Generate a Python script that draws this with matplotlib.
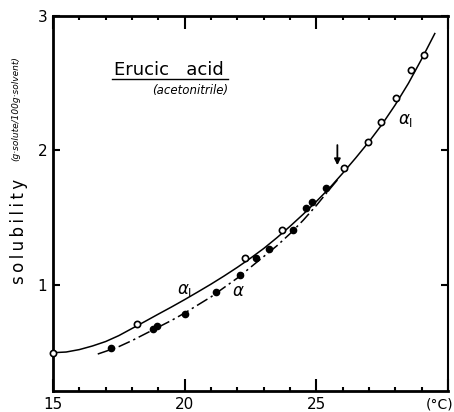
import matplotlib
matplotlib.use("Agg")
import matplotlib.pyplot as plt
import numpy as np

# alpha_1 form (open circles) -- measured points
a1_temp = [15.0, 18.2, 22.3, 23.7, 26.06, 26.98, 27.47, 28.04, 28.61, 29.1]
a1_sol = [0.49, 0.71, 1.20, 1.41, 1.87, 2.06, 2.21, 2.39, 2.60, 2.71]

# alpha form (filled circles)
a_temp = [17.2, 18.8, 18.95, 20.0, 21.2, 22.1, 22.7, 23.2, 24.13, 24.6, 24.85, 25.38]
a_sol = [0.53, 0.67, 0.69, 0.78, 0.95, 1.07, 1.20, 1.27, 1.41, 1.575, 1.62, 1.72]

# smooth curves
a1_curve_t = [15.0, 15.5, 16.0, 16.5, 17.0, 17.5, 18.0, 18.5, 19.0, 19.5,
              20.0, 20.5, 21.0, 21.5, 22.0, 22.5, 23.0, 23.5, 24.0, 24.5,
              25.0, 25.5, 26.0, 26.5, 27.0, 27.5, 28.0, 28.5, 29.0, 29.5]
a1_curve_s = [0.495, 0.50, 0.518, 0.545, 0.578, 0.622, 0.675, 0.728, 0.782, 0.835,
              0.89, 0.947, 1.005, 1.066, 1.13, 1.198, 1.27, 1.35, 1.435, 1.525,
              1.62, 1.72, 1.83, 1.945, 2.065, 2.195, 2.34, 2.50, 2.68, 2.87]

a_curve_t = [16.7, 17.0, 17.5, 18.0, 18.5, 19.0, 19.5, 20.0, 20.5, 21.0,
             21.5, 22.0, 22.5, 23.0, 23.5, 24.0, 24.5, 25.0, 25.5, 25.8]
a_curve_s = [0.485, 0.505, 0.54, 0.585, 0.635, 0.685, 0.735, 0.79, 0.85, 0.91,
             0.98, 1.05, 1.13, 1.21, 1.29, 1.38, 1.48, 1.59, 1.71, 1.78]

xticks = [15, 20, 25, 30]
xticklabels = ["15", "20", "25", ""]
yticks = [1, 2, 3]

fig = plt.figure(figsize=(4.54, 4.12), dpi=100)
ax = fig.add_axes([0.1167, 0.051, 0.870, 0.910])

ax.plot(a1_curve_t, a1_curve_s, color="black", lw=1.1)
ax.plot(a_curve_t, a_curve_s, color="black", lw=1.1, dashes=(8, 2.5, 1.5, 2.5))
ax.plot(a1_temp, a1_sol, "o", mfc="white", mec="black", ms=4.5, mew=1.2,
        clip_on=False, zorder=3)
ax.plot(a_temp, a_sol, "o", mfc="black", mec="black", ms=4.5, mew=1.0, zorder=3)

ax.set_xlim(15, 30)
ax.set_ylim(0.21, 3.0)

ax.set_xticks(xticks)
ax.set_xticklabels(xticklabels, fontsize=11)
ax.set_xticks(np.arange(16, 30, 1), minor=True)
ax.set_yticks(yticks)
ax.set_yticklabels([str(v) for v in yticks], fontsize=11)
ax.tick_params(which="major", direction="in", length=9, width=1.5,
               top=True, right=True, pad=4)
ax.tick_params(axis="y", which="major", length=5)
ax.tick_params(which="minor", direction="in", length=3, width=1.5,
               top=True, right=False, left=False)
for s in ["left", "bottom", "top"]:
    ax.spines[s].set_linewidth(2.0)
ax.spines["right"].set_linewidth(1.5)

# unit label at the right end of the x axis
ax.annotate("(°C)", xy=(1, 0), xycoords="axes fraction", xytext=(5, -7),
            textcoords="offset pixels", ha="right", va="top", fontsize=10)

# title block
ax.text(17.3, 2.56, "Erucic   acid", fontsize=13, ha="left", va="baseline")
ax.plot([17.25, 21.65], [2.53, 2.53], color="black", lw=1.0)
ax.text(21.65, 2.42, "(acetonitrile)", fontsize=8.5, style="italic",
        ha="right", va="baseline")

# curve labels
ax.text(28.1, 2.2, r"$\alpha_{\mathrm{I}}$", fontsize=12, ha="left", va="baseline")
ax.text(19.7, 0.93, r"$\alpha_{\mathrm{I}}$", fontsize=12, ha="left", va="baseline")
ax.text(21.8, 0.92, r"$\alpha$", fontsize=12, ha="left", va="baseline")

ax.annotate("", xy=(25.8, 1.89), xytext=(25.8, 2.04),
            arrowprops=dict(arrowstyle="-|>", color="black", lw=1.3,
                            mutation_scale=9, shrinkA=0, shrinkB=0))

# y label: large spaced word plus small units
fig.text(0.042, (412 - 284) / 412, "\u2009".join("solubility"), rotation=90,
         fontsize=12, ha="center", va="bottom")
fig.text(0.035, (412 - 161) / 412, "(g·solute/100g·solvent)", rotation=90,
         fontsize=6.5, style="italic", ha="center", va="bottom")

fig.savefig("out.png", dpi=100)
